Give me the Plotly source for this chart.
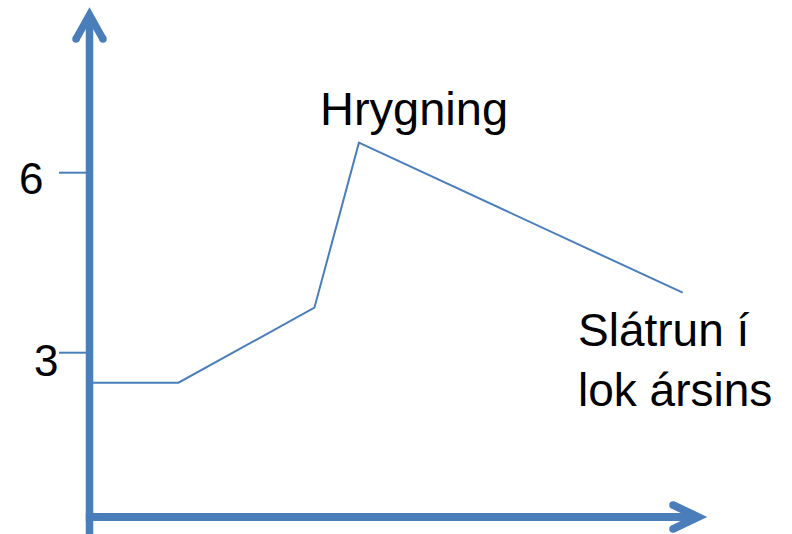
import plotly.graph_objects as go

# ---- data ----
months = [0, 1.8, 4.55, 5.45, 12]
weight = [2.5, 2.5, 3.75, 6.5, 4.0]
ytick_vals = [6, 3]
ytick_text = ["6", "3"]
peak_label = "Hrygning"
end_label = "Slátrun í<br>lok ársins"

# ---- geometry helpers (pixel -> data) ----
W, H = 792, 534
X0PX = 89.5
XSCALE = (682.7 - 89.5) / 12.0
Y0PX = 532.7
YSCALE = 60.0


def dx(px):
    return (px - X0PX) / XSCALE


def dy(py):
    return (Y0PX - py) / YSCALE


BLUE = "#4a7ebb"
FONT = "Liberation Sans, Arial, sans-serif"

fig = go.Figure()

fig.add_trace(go.Scatter(
    x=months, y=weight, mode="lines",
    line=dict(color=BLUE, width=2),
    hoverinfo="skip", showlegend=False,
))

shapes = []
# y axis shaft
shapes.append(dict(type="line", xref="x", yref="y", x0=0, x1=0,
                   y0=dy(H + 5), y1=dy(18), line=dict(color=BLUE, width=7.5)))
# y axis chevron
shapes.append(dict(type="path", xref="x", yref="y",
                   path=f"M {dx(76)} {dy(39)} L {dx(89.5)} {dy(15)} L {dx(103)} {dy(39)}",
                   line=dict(color=BLUE, width=7.5)))
# x axis shaft
shapes.append(dict(type="line", xref="x", yref="y", x0=dx(85.8), x1=dx(695),
                   y0=dy(517), y1=dy(517), line=dict(color=BLUE, width=8)))
# x axis chevron
shapes.append(dict(type="path", xref="x", yref="y",
                   path=f"M {dx(673)} {dy(505)} L {dx(698)} {dy(517)} L {dx(673)} {dy(529)}",
                   line=dict(color=BLUE, width=8)))
# tick marks
for v in ytick_vals:
    shapes.append(dict(type="line", xref="x", yref="y", x0=dx(59), x1=dx(86),
                       y0=v, y1=v, line=dict(color=BLUE, width=2)))

# round caps for chevrons
fig.add_trace(go.Scatter(
    x=[dx(76), dx(103), dx(673), dx(673)],
    y=[dy(39), dy(39), dy(505), dy(529)],
    mode="markers", marker=dict(color=BLUE, size=7.5, line=dict(width=0)),
    hoverinfo="skip", showlegend=False,
))

annotations = []
label_x_px = {"6": 31, "3": 45.5}
label_y_off = {"6": 6, "3": 7.3}
for v, t in zip(ytick_vals, ytick_text):
    annotations.append(dict(
        x=0, y=v, xref="x", yref="y", text=t, showarrow=False,
        xanchor="center", yanchor="middle",
        xshift=label_x_px[t] - X0PX, yshift=-label_y_off[t],
        font=dict(family=FONT, size=44, color="black"),
    ))

annotations.append(dict(
    x=months[3], y=weight[3], xref="x", yref="y", text=peak_label,
    showarrow=False, xanchor="center", yanchor="middle",
    xshift=55, yshift=34,
    font=dict(family=FONT, size=47, color="black"),
))
annotations.append(dict(
    x=months[4], y=weight[4], xref="x", yref="y", text=end_label,
    showarrow=False, xanchor="left", yanchor="middle", align="left",
    xshift=-107, yshift=-67,
    font=dict(family=FONT, size=46, color="black"),
))

fig.update_layout(
    width=W, height=H,
    margin=dict(l=0, r=0, t=0, b=0),
    paper_bgcolor="white", plot_bgcolor="white",
    xaxis=dict(range=[dx(0), dx(W)], visible=False, fixedrange=True),
    yaxis=dict(range=[dy(H), dy(0)], visible=False, fixedrange=True),
    shapes=shapes, annotations=annotations,
    showlegend=False,
)

fig.write_html("out.html", config={"displayModeBar": False},
               post_script="document.body.style.margin='0';document.body.style.overflow='hidden';")
